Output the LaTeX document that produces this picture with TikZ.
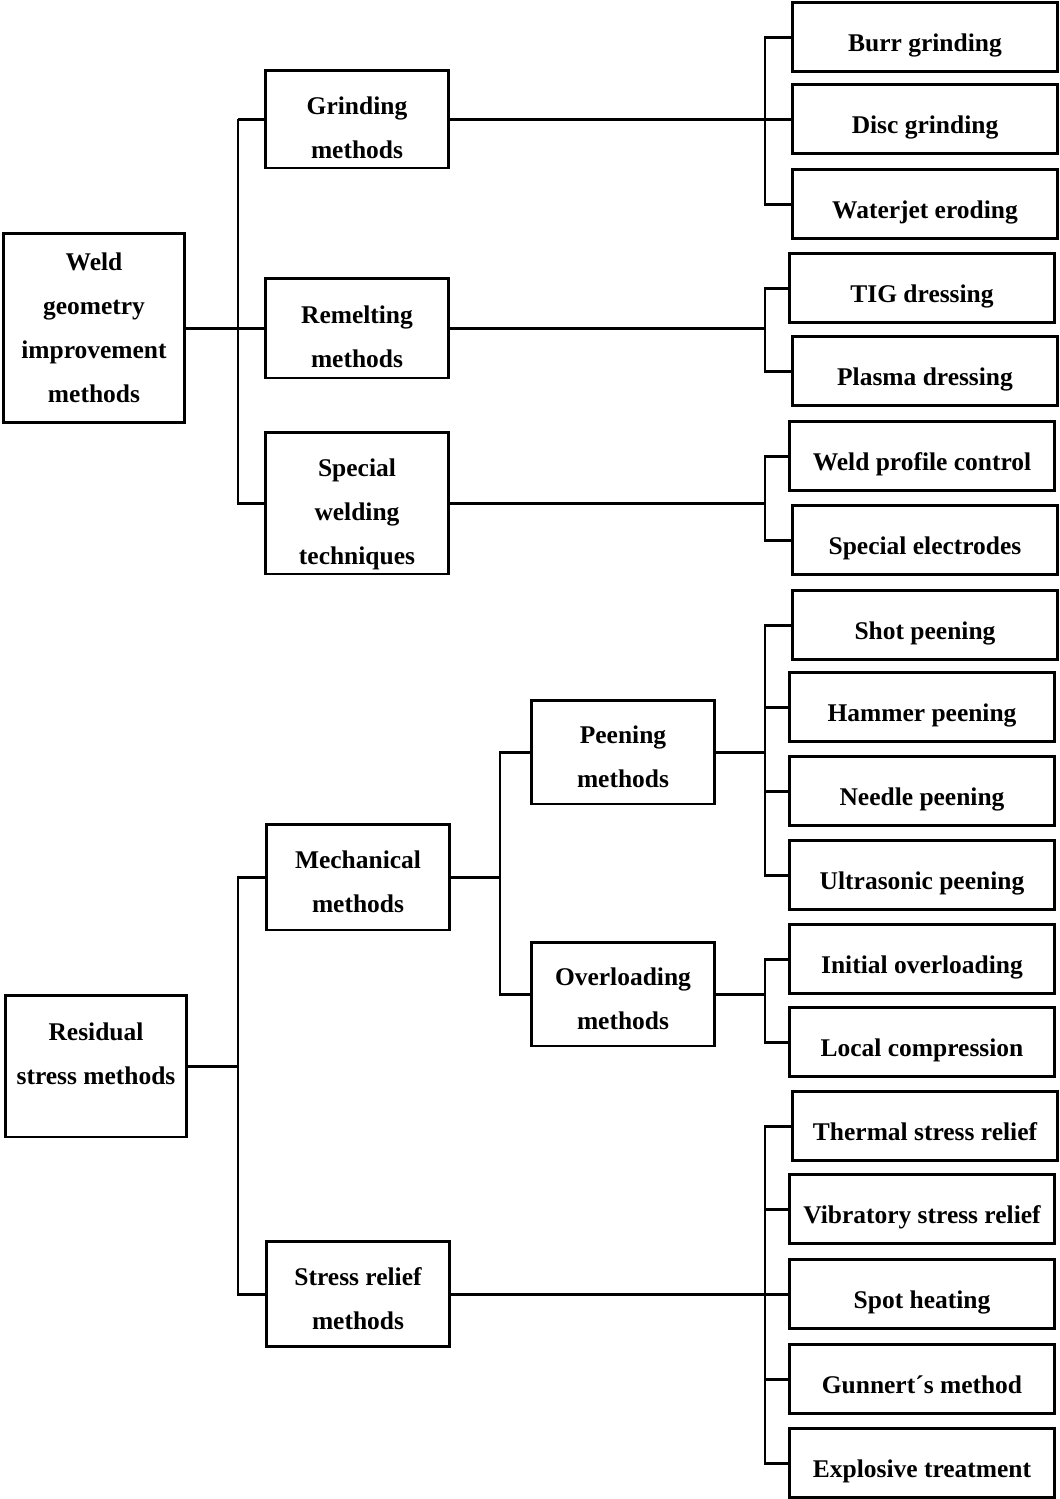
\documentclass[tikz,border=0pt]{standalone}
\usepackage{fontspec}
\setmainfont{Liberation Serif}
\newcommand{\boxlift}[1]{\rule{0pt}{#1}}

\begin{document}
\begin{tikzpicture}[x=0.02cm, y=-0.02cm, line width=1.7pt,
  plainbox/.style={draw, align=center, inner sep=2pt,
    font=\fontsize{14.5}{25}\selectfont\bfseries},
  rootbox/.style={plainbox, minimum width=3.63cm},
  midbox/.style={plainbox, minimum width=3.68cm},
  leafbox/.style={plainbox, minimum width=5.3cm, minimum height=1.38cm,
    text height=20pt, text depth=4pt}]

  \useasboundingbox (0,0) rectangle (1060,1499);

  % bracket columns
  \coordinate (lbar) at (238,0);
  \coordinate (mbar) at (500,0);
  \coordinate (rbar) at (765,0);

\begin{scope}
  % weld geometry improvement
  \node (weld) at (94,328) [rootbox, minimum height=3.8cm] {Weld\\geometry\\improvement\\methods};

  \node (grind)   at (357,119) [midbox, minimum height=1.96cm] {\boxlift{20pt}Grinding\\methods};
  \node (remelt)  at (357,328) [midbox, minimum height=2cm] {\boxlift{20pt}Remelting\\methods};
  \node (special) at (357,503) [midbox, minimum height=2.84cm] {\boxlift{23pt}Special\\welding\\techniques};

  \node (burr)     at (925,37)  [leafbox] {Burr grinding};
  \node (disc)     at (925,119) [leafbox] {Disc grinding};
  \node (waterjet) at (925,204) [leafbox] {Waterjet eroding};
  \node (tig)      at (922,288) [leafbox] {TIG dressing};
  \node (plasma)   at (925,371) [leafbox] {Plasma dressing};
  \node (profile)  at (922,456) [leafbox] {Weld profile control};
  \node (electr)   at (925,540) [leafbox] {Special electrodes};

  \draw (weld.east) -- (remelt.west);
  \draw (lbar |- grind.west) -- (grind.west);
  \draw (lbar |- grind.west) |- (special.west);

  \draw (grind.east) -| (rbar |- burr.west) -- (burr.west);
  \draw (grind.east) -- (disc.west);
  \draw (grind.east) -| (rbar |- waterjet.west) -- (waterjet.west);

  \draw (remelt.east) -| (rbar |- tig.west) -- (tig.west);
  \draw (remelt.east) -| (rbar |- plasma.west) -- (plasma.west);

  \draw (special.east) -| (rbar |- profile.west) -- (profile.west);
  \draw (special.east) -| (rbar |- electr.west) -- (electr.west);
\end{scope}

\begin{scope}
  % residual stress
  \node (resid) at (96,1066) [rootbox, minimum height=2.84cm,
    execute at end node={\rule[-14pt]{0pt}{0pt}}] {Residual\\stress methods};

  \node (mech)   at (358,877)  [midbox, minimum height=2.12cm] {\boxlift{16pt}Mechanical\\methods};
  \node (relief) at (358,1294) [midbox, minimum height=2.1cm] {\boxlift{16pt}Stress relief\\methods};

  \node (peen)     at (623,752) [midbox, minimum width=3.66cm, minimum height=2.08cm] {\boxlift{16pt}Peening\\methods};
  \node (overload) at (623,994) [midbox, minimum width=3.66cm, minimum height=2.08cm] {\boxlift{16pt}Overloading\\methods};

  \node (shot)     at (925,625)  [leafbox] {Shot peening};
  \node (hammer)   at (922,707)  [leafbox] {Hammer peening};
  \node (needle)   at (922,791)  [leafbox] {Needle peening};
  \node (ultra)    at (922,875)  [leafbox] {Ultrasonic peening};
  \node (initial)  at (922,959)  [leafbox] {Initial overloading};
  \node (local)    at (922,1042) [leafbox] {Local compression};
  \node (thermal)  at (925,1126) [leafbox] {Thermal stress relief};
  \node (vibra)    at (922,1209) [leafbox] {Vibratory stress relief};
  \node (spot)     at (922,1294) [leafbox] {Spot heating};
  \node (gunnert)  at (922,1379) [leafbox] {Gunnert´s method};
  \node (explos)   at (922,1463) [leafbox] {Explosive treatment};

  \draw (resid.east) -| (lbar |- mech.west) -- (mech.west);
  \draw (resid.east) -| (lbar |- relief.west) -- (relief.west);

  \draw (mech.east) -| (mbar |- peen.west) -- (peen.west);
  \draw (mech.east) -| (mbar |- overload.west) -- (overload.west);

  \draw (peen.east) -| (rbar |- shot.west) -- (shot.west);
  \draw (peen.east) -| (rbar |- hammer.west) -- (hammer.west);
  \draw (peen.east) -| (rbar |- needle.west) -- (needle.west);
  \draw (peen.east) -| (rbar |- ultra.west) -- (ultra.west);

  \draw (overload.east) -| (rbar |- initial.west) -- (initial.west);
  \draw (overload.east) -| (rbar |- local.west) -- (local.west);

  \draw (relief.east) -| (rbar |- thermal.west) -- (thermal.west);
  \draw (relief.east) -| (rbar |- vibra.west) -- (vibra.west);
  \draw (relief.east) -- (spot.west);
  \draw (relief.east) -| (rbar |- gunnert.west) -- (gunnert.west);
  \draw (relief.east) -| (rbar |- explos.west) -- (explos.west);
\end{scope}
\end{tikzpicture}
\end{document}
